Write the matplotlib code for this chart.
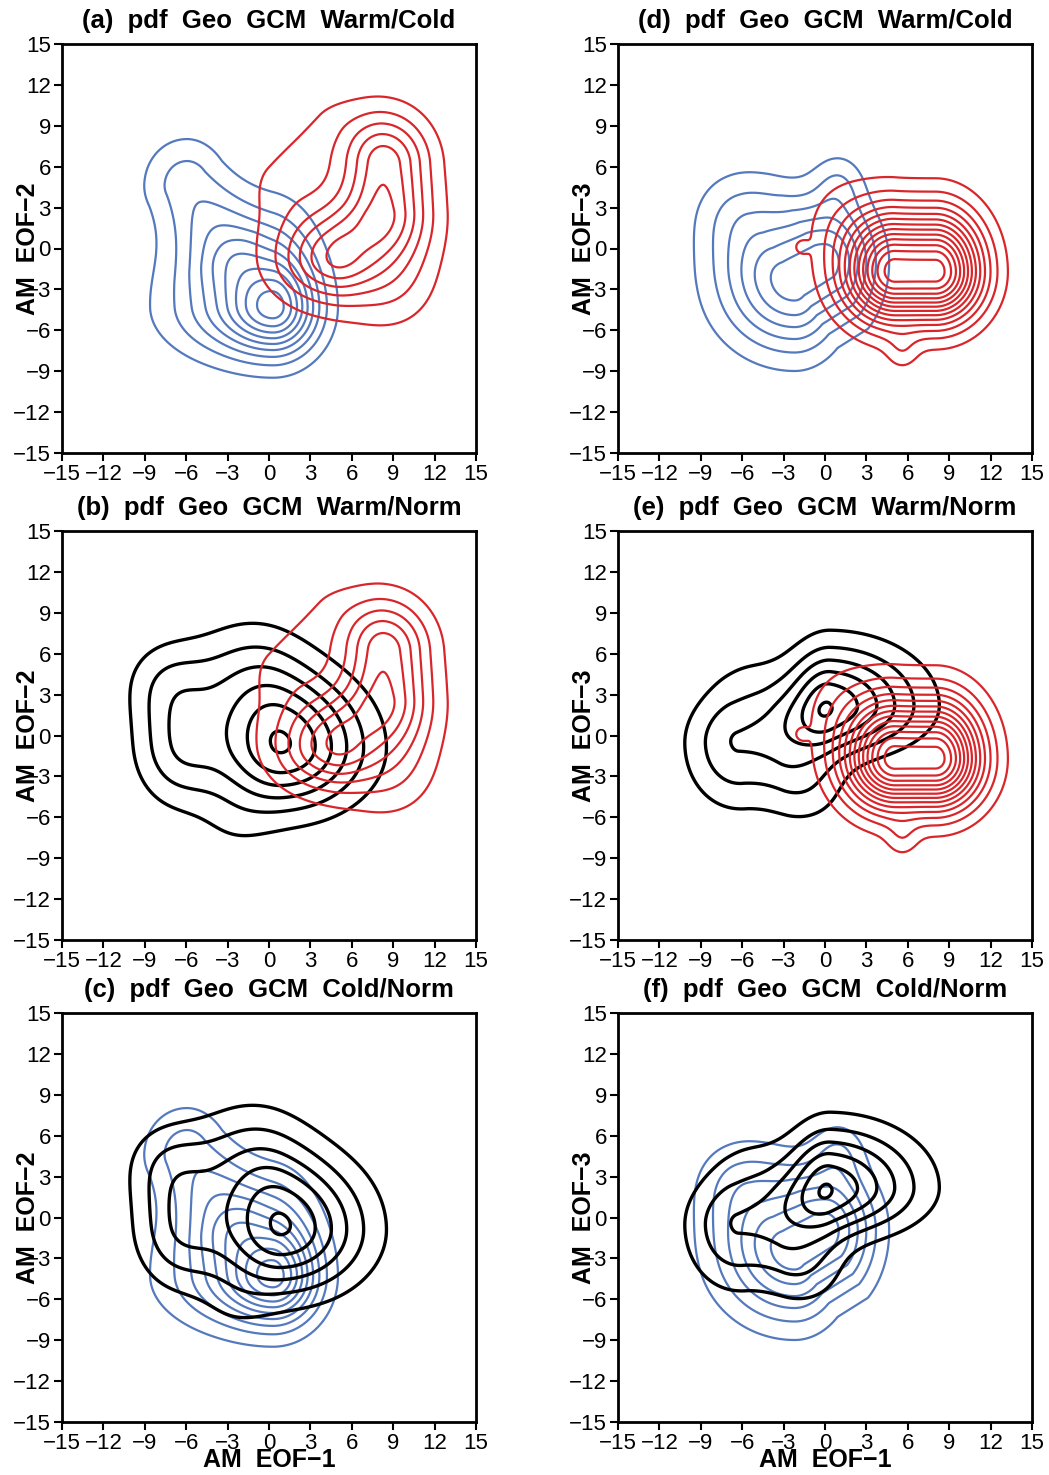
import numpy as np
import matplotlib
matplotlib.use("Agg")
import matplotlib.pyplot as plt

plt.rcParams['font.family'] = ['Liberation Sans', 'DejaVu Sans']

# each pdf = sum of bumps
# bump: (height, x1, y1, x2, y2, s_right, s_left, s_up, s_down)
# (x1,y1)-(x2,y2) is the ridge of the bump, s_* its spread on each side
warm12 = [(0.80, 8.4, 2.8, 8.4, 6.3, 2.2, 2.0, 2.5, 2.8),
          (0.75, 4.6, -0.8, 4.6, -0.8, 2.0, 2.6, 2.4, 2.0),
          (0.25, 7.0, 1.0, 7.0, 1.0, 3.8, 5.5, 5.0, 4.5),
          (0.15, 9.0, -3.0, 9.0, -3.0, 2.2, 2.2, 2.2, 2.2),
          (0.12, 1.0, 5.0, 4.5, 9.0, 2.0, 2.0, 2.0, 2.0)]
cold12 = [(0.68, 0.3, -4.3, 0.3, -4.3, 2.3, 4.6, 4.2, 2.6),
          (0.32, 0.3, -4.3, 0.3, -4.3, 2.0, 2.0, 2.0, 2.0),
          (0.25, -3.0, 0.0, -6.0, 4.8, 2.0, 2.2, 2.4, 2.0)]
norm12 = [(1.00, 1.0, -0.9, 1.0, -0.9, 4.0, 3.3, 3.6, 3.1),
          (0.45, -6.5, -0.8, -6.5, -0.8, 2.3, 2.3, 3.5, 3.0),
          (0.20, -7.5, 4.0, -7.5, 4.0, 2.2, 2.2, 2.2, 2.2),
          (0.30, -1.5, 4.5, -1.5, 4.5, 3.0, 3.0, 3.0, 3.0),
          (0.10, -2.5, -6.5, -2.5, -6.5, 2.0, 2.0, 2.0, 2.0)]
warm13 = [(1.00, 5.1, -1.7, 8.0, -1.7, 2.3, 2.5, 3.0, 2.5),
          (0.08, 5.6, -7.6, 5.6, -7.6, 0.8, 0.8, 1.0, 1.0),
          (0.07, 1.0, 2.0, 1.0, 2.0, 2.0, 2.0, 2.6, 2.6),
          (0.08, -1.7, 0.1, -1.7, 0.1, 0.35, 0.35, 0.35, 0.35)]
cold13 = [(1.00, -2.2, -2.4, 0.0, -1.0, 2.4, 3.6, 3.0, 3.4),
          (0.22, 1.0, 4.8, 1.0, 4.8, 1.3, 1.3, 1.6, 1.6),
          (0.30, -6.0, 2.5, -6.0, 2.5, 2.4, 2.4, 2.4, 2.4)]
norm13 = [(0.90, 0.4, 2.2, 0.4, 2.2, 4.3, 2.0, 3.0, 2.3),
          (0.50, -3.5, -0.2, -6.3, -0.6, 2.6, 2.6, 2.6, 3.2),
          (0.15, -1.0, -4.0, -1.0, -4.0, 2.0, 2.0, 2.0, 2.0),
          (0.12, -5.5, 4.0, -5.5, 4.0, 2.2, 2.2, 2.2, 2.2)]

# number of contour lines for each pdf, and the peak in contour steps
n_lines = {'warm12': 6, 'cold12': 9, 'norm12': 6,
           'warm13': 13, 'cold13': 6, 'norm13': 6}
n_top = {'warm12': 6.6, 'cold12': 9.6, 'norm12': 6.12,
         'warm13': 13.6, 'cold13': 6.6, 'norm13': 6.12}

ticks = [-15, -12, -9, -6, -3, 0, 3, 6, 9, 12, 15]
titles = ['(a)  pdf  Geo  GCM  Warm/Cold', '(b)  pdf  Geo  GCM  Warm/Norm',
          '(c)  pdf  Geo  GCM  Cold/Norm', '(d)  pdf  Geo  GCM  Warm/Cold',
          '(e)  pdf  Geo  GCM  Warm/Norm', '(f)  pdf  Geo  GCM  Cold/Norm']

RED = '#d8262b'
BLUE = '#5479bd'
BLACK = 'black'

xg = np.linspace(-15, 15, 301)
X, Y = np.meshgrid(xg, xg)


def pdf(bumps):
    Z = np.zeros_like(X)
    for a, x1, y1, x2, y2, sr, sl, su, sd in bumps:
        # nearest point on the ridge segment
        vx, vy = x2 - x1, y2 - y1
        L2 = vx*vx + vy*vy
        if L2 > 0:
            t = np.clip(((X - x1)*vx + (Y - y1)*vy) / L2, 0, 1)
        else:
            t = 0.0
        dx = X - (x1 + t*vx)
        dy = Y - (y1 + t*vy)
        sx = np.where(dx > 0, sr, sl)
        sy = np.where(dy > 0, su, sd)
        Z += a * np.exp(-0.5*((dx/sx)**2 + (dy/sy)**2))
    return Z


pdfs = {'warm12': pdf(warm12), 'cold12': pdf(cold12), 'norm12': pdf(norm12),
        'warm13': pdf(warm13), 'cold13': pdf(cold13), 'norm13': pdf(norm13)}

# which pdfs go in which panel (bottom layer first)
panels = [[('cold12', BLUE), ('warm12', RED)],
          [('norm12', BLACK), ('warm12', RED)],
          [('cold12', BLUE), ('norm12', BLACK)],
          [('cold13', BLUE), ('warm13', RED)],
          [('norm13', BLACK), ('warm13', RED)],
          [('cold13', BLUE), ('norm13', BLACK)]]

fig = plt.figure(figsize=(10.49, 14.75), dpi=100)
lefts = [62/1049, 618/1049]
bottoms = [(1475-453)/1475, (1475-940)/1475, (1475-1422)/1475]
w = 414/1049
h = 409/1475

for i in range(6):
    col, row = i // 3, i % 3
    ax = fig.add_axes([lefts[col], bottoms[row], w, h])
    for name, c in panels[i]:
        Z = pdfs[name]
        n = n_lines[name]
        lev = Z.max() * np.arange(1, n + 1) / n_top[name]
        lw = 2.4 if c == BLACK else 1.6
        ax.contour(X, Y, Z, levels=lev, colors=c, linewidths=lw)
    ax.set_xlim(-15, 15)
    ax.set_ylim(-15, 15)
    ax.set_xticks(ticks)
    ax.set_yticks(ticks)
    ax.tick_params(direction='out', length=6, width=1.5, labelsize=16,
                   top=False, right=False, pad=2)
    for s in ax.spines.values():
        s.set_linewidth(2)
    ax.text(0.5, 1.057, titles[i], transform=ax.transAxes, ha='center',
            va='center', fontsize=18.5, fontweight='bold')
    ylab = 'AM  EOF\u22122' if col == 0 else 'AM  EOF\u22123'
    ax.text(-0.083, 0.5, ylab, transform=ax.transAxes, rotation=90,
            ha='center', va='center', fontsize=18, fontweight='bold')
    if row == 2:
        ax.text(0.5, -0.093, 'AM  EOF\u22121', transform=ax.transAxes,
                ha='center', va='center', fontsize=18, fontweight='bold')

fig.savefig('out.png', dpi=100)
